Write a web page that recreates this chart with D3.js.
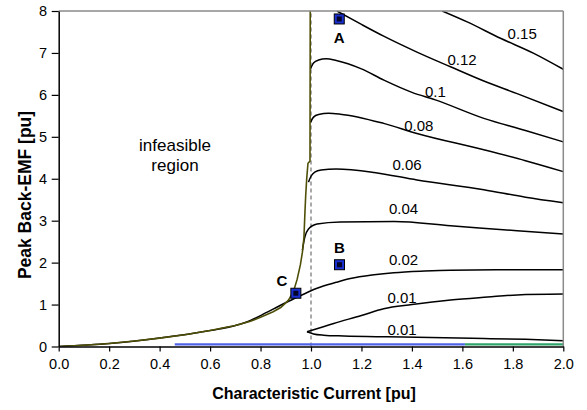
<!DOCTYPE html>
<html>
<head>
<meta charset="utf-8">
<script src="https://cdn.jsdelivr.net/npm/d3@7"></script>
<style>
  html, body { margin: 0; padding: 0; background: #fff; }
  svg { display: block; font-family: "Liberation Sans", Arial, sans-serif; }
</style>
</head>
<body>
<svg id="chart" width="587" height="410"></svg>
<script>
// Axis ticks
const xTicks = [0, 0.2, 0.4, 0.6, 0.8, 1.0, 1.2, 1.4, 1.6, 1.8, 2.0];
const yTicks = [0, 1, 2, 3, 4, 5, 6, 7, 8];

// Boundary of the infeasible region [characteristic current, back-EMF]
const boundary = [[0,0],[0.1,0.03],[0.2,0.07],[0.3,0.13],[0.4,0.2],[0.5,0.28],[0.6,0.38],
  [0.7,0.5],[0.76,0.6],[0.8,0.7],[0.85,0.83],[0.88,0.93],[0.91,1.1],[0.93,1.3],[0.945,1.6],
  [0.958,1.95],[0.966,2.25],[0.972,2.6],[0.976,3.2],[0.979,3.6],[0.983,4.0],[0.988,4.37],
  [0.996,4.42],[0.997,8]];

// Constant-parameter contours
const c015 = [[1.52,8.0],[1.619,7.74],[1.751,7.35],[1.883,6.99],[2.0,6.61]];
const c012 = [[1.103,8.0],[1.2,7.68],[1.288,7.4],[1.42,7.02],[1.553,6.67],[1.685,6.33],[1.817,6.03],[2.0,5.6]];
const c010 = [[0.998,6.62],[1.01,6.76],[1.03,6.83],[1.06,6.86],[1.1,6.82],[1.2,6.62],[1.289,6.35],
  [1.4,6.06],[1.493,5.88],[1.685,5.44],[1.85,5.15],[2.0,4.88]];
const c008 = [[0.998,5.34],[1.01,5.47],[1.03,5.53],[1.07,5.56],[1.116,5.54],[1.288,5.32],[1.42,5.08],
  [1.685,4.69],[1.85,4.43],[2.0,4.17]];
const c006 = [[0.99,3.92],[1.0,4.06],[1.015,4.16],[1.04,4.21],[1.1,4.23],[1.25,4.15],[1.42,3.97],
  [1.685,3.74],[1.85,3.56],[2.0,3.43]];
const c004 = [[0.966,2.3],[0.975,2.6],[0.99,2.8],[1.024,2.92],[1.116,2.97],[1.33,2.98],[1.553,2.88],
  [1.817,2.76],[2.0,2.68]];
const c002 = [[0,0],[0.2,0.07],[0.4,0.2],[0.6,0.38],[0.7,0.5],[0.76,0.62],[0.82,0.8],[0.891,1.02],
  [0.944,1.17],[1.0,1.33],[1.024,1.39],[1.1,1.53],[1.156,1.62],[1.25,1.71],[1.328,1.76],[1.45,1.8],
  [1.553,1.82],[1.8,1.83],[2.0,1.83]];
const c001a = [[0.984,0.35],[1.09,0.55],[1.2,0.74],[1.288,0.9],[1.4,1.0],[1.553,1.11],[1.7,1.18],
  [1.817,1.23],[2.0,1.25]];
const c001b = [[0.984,0.35],[1.01,0.3],[1.05,0.27],[1.13,0.25],[1.3,0.23],[1.42,0.22],[1.685,0.19],
  [1.85,0.17],[2.0,0.14]];

// Contour labels: text and anchor in data units
const contourLabels = ["0.15", "0.12", "0.1", "0.08", "0.06", "0.04", "0.02", "0.01", "0.01"];
const contourLabelX = [1.837, 1.599, 1.493, 1.427, 1.381, 1.367, 1.367, 1.361, 1.361];
const contourLabelY = [7.47, 6.85, 6.08, 5.28, 4.33, 3.30, 2.08, 1.17, 0.41];

// Operating points
const pointNames = ["A", "B", "C"];
const pointX = [1.112, 1.113, 0.94];
const pointY = [7.81, 1.95, 1.27];

// Base-line segments along zero EMF
const blueSeg = [[0.46, 0.05], [1.61, 0.05]];
const greenSeg = [[1.61, 0.05], [2.0, 0.05]];

const svg = d3.select("#chart");
const x = d3.scaleLinear().domain([0, 2]).range([58.7, 563.3]);
const y = d3.scaleLinear().domain([0, 8]).range([346.5, 11]);

svg.append("defs").append("clipPath").attr("id", "plotClip")
  .append("rect").attr("x", x(0)).attr("y", y(8)).attr("width", x(2) - x(0)).attr("height", y(0) - y(8));

const plot = svg.append("g").attr("clip-path", "url(#plotClip)");

const smooth = d3.line().x(d => x(d[0])).y(d => y(d[1])).curve(d3.curveMonotoneX);
const straight = d3.line().x(d => x(d[0])).y(d => y(d[1]));

// frame (top and right)
svg.append("line").attr("x1", x(0)).attr("x2", x(2)).attr("y1", y(8)).attr("y2", y(8))
  .attr("stroke", "#8a8a8a").attr("stroke-width", 1.5);
svg.append("line").attr("x1", x(2)).attr("x2", x(2)).attr("y1", y(8)).attr("y2", y(0))
  .attr("stroke", "#8a8a8a").attr("stroke-width", 1.5);

// dashed line at unit current
plot.append("line").attr("x1", x(1)).attr("x2", x(1)).attr("y1", y(0)).attr("y2", y(8))
  .attr("stroke", "#555").attr("stroke-width", 1).attr("stroke-dasharray", "4,3");

// contours
[c015, c012, c010, c008, c006, c004, c002, c001a, c001b].forEach(c => {
  plot.append("path").attr("d", smooth(c)).attr("fill", "none")
    .attr("stroke", "#000").attr("stroke-width", 1.5);
});

// infeasible boundary
plot.append("path").attr("d", straight(boundary)).attr("fill", "none")
  .attr("stroke", "#4f4f08").attr("stroke-width", 1.6);

// zero-EMF segments
plot.append("path").attr("d", straight(blueSeg)).attr("stroke", "#4f63e6").attr("stroke-width", 2.2);
plot.append("path").attr("d", straight(greenSeg)).attr("stroke", "#2ea36a").attr("stroke-width", 2.2);

// axes
const xAxis = d3.axisBottom(x).tickValues(xTicks).tickFormat(d3.format(".1f"))
  .tickSize(5).tickSizeOuter(0).tickPadding(7);
const yAxis = d3.axisLeft(y).tickValues(yTicks).tickFormat(d3.format("d"))
  .tickSize(7).tickSizeOuter(0).tickPadding(4.5);

const gx = svg.append("g").attr("transform", `translate(0,${y(0)})`).call(xAxis);
const gy = svg.append("g").attr("transform", `translate(${x(0)},0)`).call(yAxis);
[gx, gy].forEach(g => {
  g.select(".domain").attr("stroke", "#000").attr("stroke-width", 1.5);
  g.selectAll(".tick line").attr("stroke", "#000").attr("stroke-width", 1.2);
  g.selectAll(".tick text").attr("fill", "#000").style("font-size", "14.5px")
    .style("font-family", "'Liberation Sans', Arial, sans-serif");
});

// axis titles
svg.append("text").attr("x", 314).attr("y", 399).attr("text-anchor", "middle")
  .style("font-size", "16px").style("font-weight", "bold").text("Characteristic Current [pu]");
svg.append("text").attr("transform", "translate(31,195) rotate(-90)").attr("text-anchor", "middle")
  .style("font-size", "17.5px").style("font-weight", "bold").text("Peak Back-EMF [pu]");

// contour labels
contourLabels.forEach((t, i) => {
  svg.append("text").attr("x", x(contourLabelX[i])).attr("y", y(contourLabelY[i]))
    .attr("text-anchor", "middle").attr("dominant-baseline", "central")
    .style("font-size", "15px").text(t);
});

// region label
const reg = svg.append("text").attr("text-anchor", "middle").style("font-size", "17px");
reg.append("tspan").attr("x", 175).attr("y", 151).text("infeasible");
reg.append("tspan").attr("x", 175).attr("y", 171).text("region");

// operating points
const labelDx = [0, 0, -14];
const labelDy = [19, -17, -13];
pointNames.forEach((n, i) => {
  const px = x(pointX[i]), py = y(pointY[i]);
  svg.append("rect").attr("x", px - 5).attr("y", py - 5).attr("width", 10).attr("height", 10)
    .attr("fill", "#1a2fd0").attr("stroke", "#000").attr("stroke-width", 1);
  svg.append("rect").attr("x", px - 2.5).attr("y", py - 2.5).attr("width", 5).attr("height", 5)
    .attr("fill", "#05052a");
  svg.append("text").attr("x", px + labelDx[i]).attr("y", py + labelDy[i])
    .attr("text-anchor", "middle").attr("dominant-baseline", "central")
    .style("font-size", "15px").style("font-weight", "bold").text(n);
});
</script>
</body>
</html>
